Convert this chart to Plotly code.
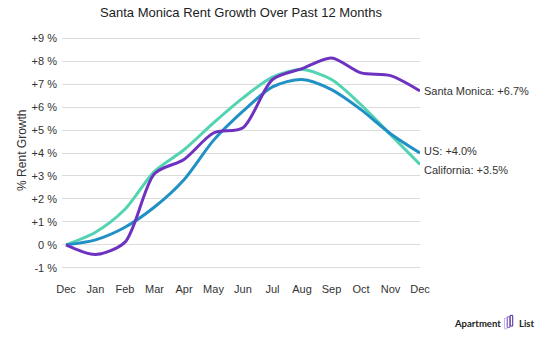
import plotly.graph_objects as go

months = ["Dec", "Jan", "Feb", "Mar", "Apr", "May", "Jun", "Jul", "Aug", "Sep", "Oct", "Nov", "Dec"]
santa_monica = [0, -0.42, 0.12, 3.1, 3.72, 4.87, 5.1, 7.2, 7.67, 8.14, 7.49, 7.37, 6.7]
california = [0, 0.55, 1.55, 3.2, 4.14, 5.31, 6.4, 7.3, 7.63, 7.2, 6.1, 4.8, 3.5]
us = [0, 0.22, 0.77, 1.65, 2.84, 4.55, 5.82, 6.88, 7.2, 6.76, 5.89, 4.84, 4.0]
ytick_vals = list(range(-1, 10))
ytick_text = [("+%d %%" % v) if v > 0 else ("%d %%" % v) for v in ytick_vals]

x = list(range(len(months)))
series = [
    ("California", california, "#52d3b2", -6),
    ("US", us, "#2190c4", 2),
    ("Santa Monica", santa_monica, "#6e32c0", 0),
]

fig = go.Figure()
for name, vals, color, _ in series:
    fig.add_trace(go.Scatter(x=x, y=vals, mode="lines", name=name,
                             line=dict(color=color, width=3, shape="spline", smoothing=0.8),
                             hoverinfo="skip"))

for name, vals, color, ys in series:
    fig.add_annotation(x=x[-1], y=vals[-1], xref="x", yref="y",
                       text="%s: %+.1f%%" % (name, vals[-1]), showarrow=False,
                       xanchor="left", yanchor="middle", xshift=2, yshift=ys,
                       font=dict(family="Liberation Sans, Arial", size=11, color="#333333"))

fig.add_annotation(x=-0.112, y=0.513, xref="paper", yref="paper", text="% Rent Growth",
                   textangle=-90, showarrow=False, xanchor="center", yanchor="middle",
                   font=dict(family="Liberation Sans, Arial", size=12, color="#333333"))

# logo
fig.add_annotation(x=1.089, y=-0.233, xref="paper", yref="paper", text="Apartment",
                   showarrow=False, xanchor="left", yanchor="middle",
                   font=dict(family="Lato, Roboto", size=9.5, color="#222222", weight=700))
fig.add_annotation(x=1.27, y=-0.233, xref="paper", yref="paper", text="List",
                   showarrow=False, xanchor="left", yanchor="middle",
                   font=dict(family="Lato, Roboto", size=9.5, color="#222222", weight=700))
for i, c in enumerate(["#c9b6ec", "#8a5fd0", "#4b2290"]):
    x0 = 1.236 + i * 0.008
    fig.add_shape(type="rect", xref="paper", yref="paper",
                  x0=x0, x1=x0 + 0.007, y0=-0.258 + i * 0.006, y1=-0.212 + i * 0.006,
                  line=dict(color=c, width=1), fillcolor="white")

fig.update_layout(
    width=550, height=337,
    margin=dict(l=62, r=130, t=37, b=68),
    paper_bgcolor="white", plot_bgcolor="white",
    showlegend=False,
    title=dict(text="Santa Monica Rent Growth Over Past 12 Months", x=0.5, xref="paper",
               y=0.962, yref="container", xanchor="center", yanchor="middle",
               font=dict(family="Liberation Sans, Arial", size=13, color="#222222")),
    xaxis=dict(range=[-0.135, 12], tickvals=x, ticktext=months, showgrid=False,
               zeroline=False, showline=False, ticks="", ticklabelstandoff=12,
               tickfont=dict(family="Liberation Sans, Arial", size=11, color="#333333")),
    yaxis=dict(range=[-1.05, 9.05], tickvals=ytick_vals, ticktext=ytick_text,
               showgrid=True, gridcolor="#dcdcdc", gridwidth=1, zeroline=False,
               showline=False, ticks="", ticklabelstandoff=4,
               tickfont=dict(family="Liberation Sans, Arial", size=11, color="#333333")),
)

fig.write_html("out.html")
